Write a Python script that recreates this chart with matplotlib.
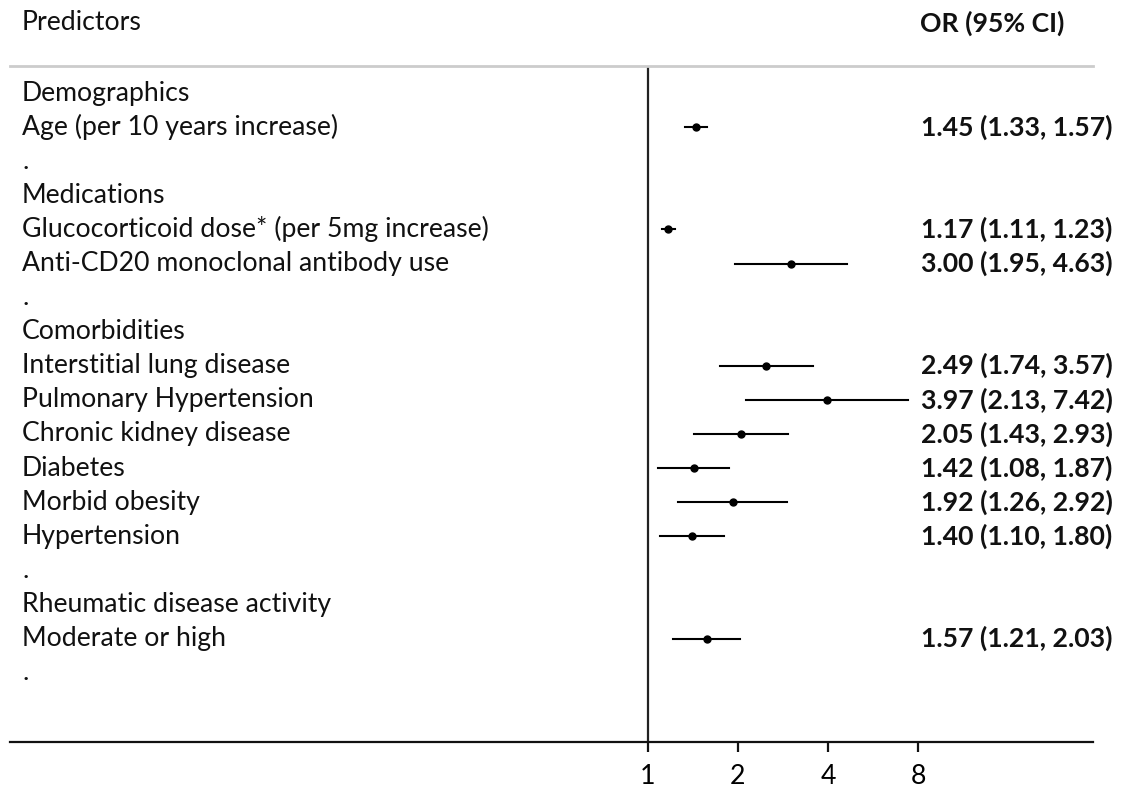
import matplotlib
matplotlib.use("Agg")
import matplotlib.pyplot as plt
import matplotlib.transforms as mtransforms
import numpy as np

# Rows of the forest plot, top to bottom ("." rows are spacers)
LABELS = ["Demographics", "Age (per 10 years increase)", ".",
          "Medications", "Glucocorticoid dose* (per 5mg increase)",
          "Anti-CD20 monoclonal antibody use", ".",
          "Comorbidities", "Interstitial lung disease", "Pulmonary Hypertension",
          "Chronic kidney disease", "Diabetes", "Morbid obesity", "Hypertension", ".",
          "Rheumatic disease activity", "Moderate or high", "."]

# Odds ratios and 95% CI (None for header / spacer rows)
OR = [None, 1.45, None, None, 1.17, 3.00, None, None, 2.49, 3.97,
      2.05, 1.42, 1.92, 1.40, None, None, 1.57, None]
LOWER = [None, 1.33, None, None, 1.11, 1.95, None, None, 1.74, 2.13,
         1.43, 1.08, 1.26, 1.10, None, None, 1.21, None]
UPPER = [None, 1.57, None, None, 1.23, 4.63, None, None, 3.57, 7.42,
         2.93, 1.87, 2.92, 1.80, None, None, 2.03, None]

XTICKS = [1, 2, 4, 8]

FONT = "Lato"
FS = 19.2

W, H = 1131, 790
fig = plt.figure(figsize=(W / 100, H / 100), dpi=100)

# axes spans the pixel region of the axis lines
left_px, right_px, top_px, bottom_px = 10, 1093, 66, 742
ax = fig.add_axes([left_px / W, 1 - bottom_px / H,
                   (right_px - left_px) / W, (bottom_px - top_px) / H])

# log2 scale: OR=1 at x=648px, 90px per doubling
px_per_oct = 90.0
x1_px = 648
ax.set_xscale("log", base=2)
ax.set_xlim(2 ** ((left_px - x1_px) / px_per_oct), 2 ** ((right_px - x1_px) / px_per_oct))

row0_px, row_step = 93, 34.1
ax.set_ylim((bottom_px - row0_px) / row_step, (top_px - row0_px) / row_step)

for s in ["top", "right", "left"]:
    ax.spines[s].set_visible(False)
ax.spines["bottom"].set_linewidth(1.6)
ax.spines["bottom"].set_color("#111111")
ax.set_yticks([])
ax.set_xticks(XTICKS)
ax.set_xticklabels([str(t) for t in XTICKS], fontfamily=FONT, fontsize=FS)
ax.xaxis.set_minor_locator(matplotlib.ticker.NullLocator())
ax.tick_params(axis="x", length=7, width=1.6, pad=9, color="#111111")

# reference line at OR=1
ax.axvline(1, color="#222222", lw=1.6, zorder=1)

# top gray rule
ax.axhline(ax.get_ylim()[1], color="#cccccc", lw=2, clip_on=False)

y = np.arange(len(LABELS))
for i in range(len(LABELS)):
    if OR[i] is not None:
        ax.plot([LOWER[i], UPPER[i]], [y[i], y[i]], color="black", lw=1.5, zorder=2)
        ax.plot(OR[i], y[i], "o", color="black", ms=5, zorder=3)

# text columns in figure pixel positions
trans_left = mtransforms.blended_transform_factory(fig.transFigure, ax.transData)
for i, lab in enumerate(LABELS):
    ax.text(22 / W, y[i], lab, transform=trans_left, ha="left", va="center",
            fontfamily=FONT, fontsize=FS, color="#111111", clip_on=False)
    if OR[i] is not None:
        ax.text(921 / W, y[i], f"{OR[i]:.2f} ({LOWER[i]:.2f}, {UPPER[i]:.2f})",
                transform=trans_left, ha="left", va="center", fontfamily=FONT,
                fontsize=FS, fontweight="bold", color="#111111", clip_on=False)

fig.text(22 / W, 1 - 23 / H, "Predictors", ha="left", va="center",
         fontfamily=FONT, fontsize=FS, color="#111111")
fig.text(920 / W, 1 - 23 / H, "OR (95% CI)", ha="left", va="center",
         fontfamily=FONT, fontsize=FS, fontweight="bold", color="#111111")

fig.savefig("out.png", dpi=100)
